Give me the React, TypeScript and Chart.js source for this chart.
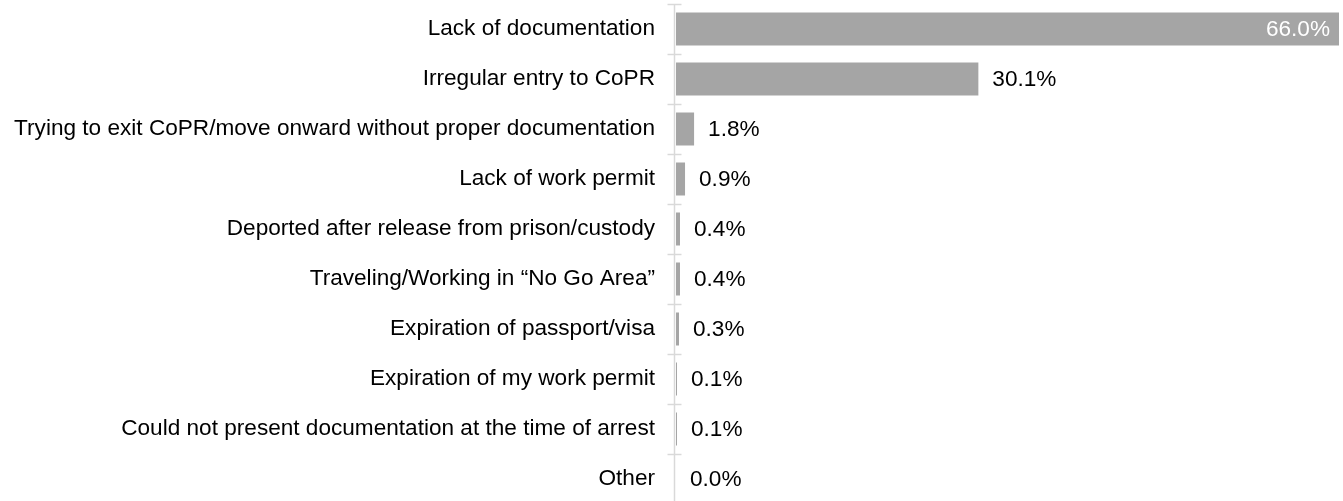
import React, { useEffect, useRef } from "react";
import { Chart, registerables } from "chart.js";

Chart.register(...registerables);

const categories = [
  "Lack of documentation",
  "Irregular entry to CoPR",
  "Trying to exit CoPR/move onward without proper documentation",
  "Lack of work permit",
  "Deported after release from prison/custody",
  "Traveling/Working in “No Go Area”",
  "Expiration of passport/visa",
  "Expiration of my work permit",
  "Could not present documentation at the time of arrest",
  "Other",
];

const values = [66.0, 30.1, 1.8, 0.9, 0.4, 0.4, 0.3, 0.1, 0.1, 0.0];

const FONT = "'Liberation Sans', Arial, sans-serif";
const FONT_SIZE = 22.6;
const BAR_COLOR = "#A5A5A5";
const AXIS_COLOR = "#D9D9D9";

const axisPlugin = {
  id: "axisPlugin",
  afterDatasetsDraw(chart: any) {
    const { ctx, chartArea } = chart;
    const y = chart.scales.y;
    const x0 = chartArea.left - 1.5;
    ctx.save();
    ctx.strokeStyle = AXIS_COLOR;
    ctx.lineWidth = 1.5;
    ctx.beginPath();
    ctx.moveTo(x0, chartArea.top);
    ctx.lineTo(x0, chartArea.bottom);
    ctx.stroke();
    const n = categories.length;
    const step = n > 1 ? y.getPixelForValue(1) - y.getPixelForValue(0) : 0;
    for (let i = 0; i <= n; i++) {
      const py = Math.round(y.getPixelForValue(i) - step / 2) + 0.5;
      ctx.beginPath();
      ctx.moveTo(x0 - 7, py);
      ctx.lineTo(x0 + 7, py);
      ctx.stroke();
    }
    ctx.restore();
  },
};

const labelPlugin = {
  id: "labelPlugin",
  afterDatasetsDraw(chart: any) {
    const { ctx, chartArea } = chart;
    const meta = chart.getDatasetMeta(0);
    ctx.save();
    ctx.font = `${FONT_SIZE}px ${FONT}`;
    ctx.textBaseline = "middle";
    meta.data.forEach((bar: any, i: number) => {
      const text = values[i].toFixed(1) + "%";
      const w = ctx.measureText(text).width;
      if (bar.x + 14 + w > chartArea.right) {
        ctx.fillStyle = "#FFFFFF";
        ctx.textAlign = "right";
        ctx.fillText(text, bar.x - 9, bar.y + 1);
      } else {
        ctx.fillStyle = "#000000";
        ctx.textAlign = "left";
        ctx.fillText(text, bar.x + 14, bar.y + 1);
      }
    });
    ctx.restore();
  },
};

export default function App() {
  const ref = useRef<HTMLCanvasElement>(null);

  useEffect(() => {
    if (!ref.current) return;
    const chart = new Chart(ref.current, {
      type: "bar",
      data: {
        labels: categories,
        datasets: [
          {
            data: values,
            backgroundColor: BAR_COLOR,
            borderWidth: 0,
            barPercentage: 0.66,
            categoryPercentage: 1,
          },
        ],
      },
      options: {
        indexAxis: "y",
        responsive: false,
        animation: false,
        layout: { padding: { top: 4, bottom: 1, left: 0, right: 4 } },
        plugins: {
          legend: { display: false },
          tooltip: { enabled: false },
        },
        scales: {
          x: {
            display: false,
            min: 0,
            max: 66,
          },
          y: {
            grid: { display: false, drawTicks: false },
            border: { display: false },
            ticks: {
              color: "#000000",
              padding: 21,
              font: { family: FONT, size: FONT_SIZE },
              autoSkip: false,
            },
            afterFit(scale: any) {
              scale.width = 676;
              scale.paddingTop = 0;
              scale.paddingBottom = 0;
            },
          },
        },
      },
      plugins: [axisPlugin, labelPlugin],
    });
    return () => chart.destroy();
  }, []);

  return (
    <div style={{ position: "fixed", left: 0, top: 0, width: 1343, height: 505, background: "#fff" }}>
      <canvas ref={ref} width={1343} height={505} style={{ display: "block" }} />
    </div>
  );
}
